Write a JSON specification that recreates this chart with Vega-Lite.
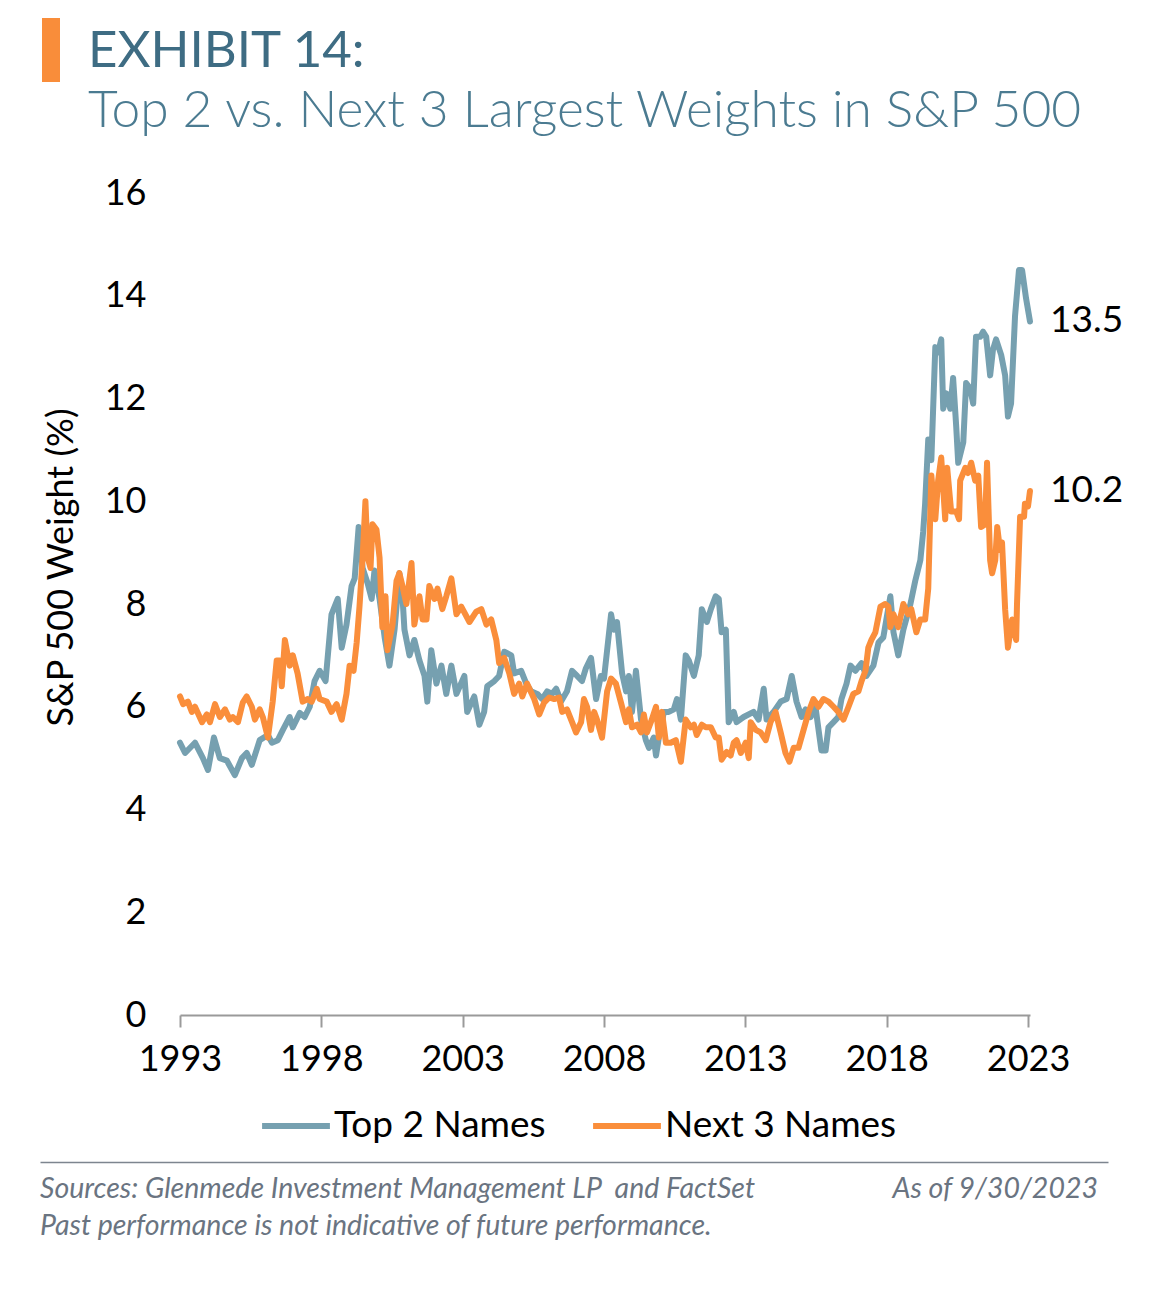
{
  "$schema": "https://vega.github.io/schema/vega-lite/v6.json",
  "padding": {"left": 40, "top": 18, "right": 0, "bottom": 0},
  "background": "white",
  "config": {"view": {"stroke": null}, "font": "Lato", "concat": {"spacing": 20}},
  "datasets": {
    "head": [
      {"part": "title", "txt": "EXHIBIT 14:"},
      {"part": "sub", "txt": "Top 2 vs. Next 3 Largest Weights in S&P 500"}
    ],
    "foot": [
      {"side": "left", "line": "first", "txt": "Sources: Glenmede Investment Management LP\u00a0 and FactSet"},
      {"side": "right", "line": "first", "txt": "As of 9/30/2023"},
      {"side": "left", "line": "second", "txt": "Past performance is not indicative of future performance."}
    ],
    "top2": [
      {"t":1993.00,"v":5.3},{"t":1993.18,"v":5.1},{"t":1993.53,"v":5.3},{"t":1993.81,"v":5.0},{"t":1993.99,"v":4.77},
      {"t":1994.20,"v":5.4},{"t":1994.41,"v":5.0},{"t":1994.66,"v":4.95},{"t":1994.94,"v":4.67},{"t":1995.19,"v":5.0},
      {"t":1995.36,"v":5.1},{"t":1995.54,"v":4.87},{"t":1995.82,"v":5.35},{"t":1996.11,"v":5.45},{"t":1996.25,"v":5.3},
      {"t":1996.46,"v":5.35},{"t":1996.64,"v":5.55},{"t":1996.88,"v":5.8},{"t":1996.99,"v":5.6},{"t":1997.24,"v":5.88},
      {"t":1997.41,"v":5.8},{"t":1997.59,"v":6.0},{"t":1997.76,"v":6.5},{"t":1997.94,"v":6.7},{"t":1998.15,"v":6.5},
      {"t":1998.36,"v":7.8},{"t":1998.58,"v":8.1},{"t":1998.72,"v":7.15},{"t":1998.89,"v":7.6},{"t":1999.07,"v":8.35},
      {"t":1999.18,"v":8.5},{"t":1999.32,"v":9.5},{"t":1999.46,"v":8.7},{"t":1999.64,"v":8.4},{"t":1999.78,"v":8.1},
      {"t":1999.88,"v":8.65},{"t":2000.06,"v":8.1},{"t":2000.24,"v":7.35},{"t":2000.41,"v":6.8},{"t":2000.59,"v":7.5},
      {"t":2000.76,"v":8.6},{"t":2000.87,"v":8.15},{"t":2000.94,"v":7.5},{"t":2001.12,"v":7.0},{"t":2001.29,"v":7.3},
      {"t":2001.47,"v":6.9},{"t":2001.65,"v":6.6},{"t":2001.75,"v":6.1},{"t":2001.89,"v":7.1},{"t":2002.07,"v":6.45},
      {"t":2002.25,"v":6.8},{"t":2002.42,"v":6.25},{"t":2002.60,"v":6.8},{"t":2002.78,"v":6.25},{"t":2003.06,"v":6.6},
      {"t":2003.16,"v":5.9},{"t":2003.41,"v":6.2},{"t":2003.59,"v":5.65},{"t":2003.76,"v":5.9},{"t":2003.87,"v":6.4},
      {"t":2004.12,"v":6.5},{"t":2004.29,"v":6.6},{"t":2004.47,"v":7.07},{"t":2004.72,"v":7.0},{"t":2004.82,"v":6.65},
      {"t":2005.07,"v":6.7},{"t":2005.25,"v":6.45},{"t":2005.42,"v":6.3},{"t":2005.64,"v":6.25},{"t":2005.81,"v":6.15},
      {"t":2005.99,"v":6.3},{"t":2006.16,"v":6.25},{"t":2006.31,"v":6.35},{"t":2006.48,"v":6.1},{"t":2006.69,"v":6.3},
      {"t":2006.87,"v":6.7},{"t":2007.05,"v":6.6},{"t":2007.22,"v":6.5},{"t":2007.36,"v":6.75},{"t":2007.54,"v":6.95},
      {"t":2007.72,"v":6.15},{"t":2007.89,"v":6.6},{"t":2008.00,"v":6.55},{"t":2008.25,"v":7.8},{"t":2008.35,"v":7.5},
      {"t":2008.46,"v":7.65},{"t":2008.64,"v":6.65},{"t":2008.78,"v":6.3},{"t":2008.88,"v":6.6},{"t":2008.99,"v":5.9},
      {"t":2009.13,"v":6.7},{"t":2009.31,"v":5.75},{"t":2009.48,"v":5.35},{"t":2009.59,"v":5.2},{"t":2009.76,"v":5.4},
      {"t":2009.84,"v":5.05},{"t":2009.94,"v":5.4},{"t":2010.12,"v":5.9},{"t":2010.29,"v":5.9},{"t":2010.47,"v":5.95},
      {"t":2010.58,"v":6.15},{"t":2010.72,"v":5.75},{"t":2010.89,"v":7.0},{"t":2011.00,"v":6.9},{"t":2011.18,"v":6.6},
      {"t":2011.35,"v":7.0},{"t":2011.46,"v":7.9},{"t":2011.64,"v":7.65},{"t":2011.78,"v":7.9},{"t":2011.95,"v":8.15},
      {"t":2012.06,"v":8.1},{"t":2012.16,"v":7.45},{"t":2012.31,"v":7.5},{"t":2012.41,"v":5.7},{"t":2012.59,"v":5.9},
      {"t":2012.69,"v":5.7},{"t":2012.94,"v":5.8},{"t":2013.29,"v":5.9},{"t":2013.47,"v":5.75},{"t":2013.65,"v":6.35},
      {"t":2013.75,"v":5.75},{"t":2014.00,"v":5.9},{"t":2014.25,"v":6.1},{"t":2014.46,"v":6.15},{"t":2014.64,"v":6.6},
      {"t":2014.81,"v":6.1},{"t":2014.99,"v":5.8},{"t":2015.13,"v":5.95},{"t":2015.31,"v":5.8},{"t":2015.48,"v":6.0},
      {"t":2015.59,"v":5.55},{"t":2015.69,"v":5.15},{"t":2015.84,"v":5.15},{"t":2015.94,"v":5.6},{"t":2016.12,"v":5.7},
      {"t":2016.29,"v":5.8},{"t":2016.40,"v":6.15},{"t":2016.58,"v":6.45},{"t":2016.72,"v":6.8},{"t":2016.89,"v":6.7},
      {"t":2017.11,"v":6.85},{"t":2017.28,"v":6.6},{"t":2017.53,"v":6.8},{"t":2017.71,"v":7.25},{"t":2017.88,"v":7.35},
      {"t":2018.13,"v":8.15},{"t":2018.24,"v":7.45},{"t":2018.41,"v":7.0},{"t":2018.59,"v":7.5},{"t":2018.84,"v":8.0},
      {"t":2019.01,"v":8.45},{"t":2019.19,"v":8.85},{"t":2019.29,"v":9.4},{"t":2019.36,"v":9.95},{"t":2019.47,"v":11.2},
      {"t":2019.58,"v":10.8},{"t":2019.72,"v":13.0},{"t":2019.82,"v":12.9},{"t":2019.93,"v":13.15},{"t":2020.00,"v":11.8},
      {"t":2020.11,"v":12.1},{"t":2020.25,"v":11.8},{"t":2020.35,"v":12.4},{"t":2020.46,"v":11.45},{"t":2020.53,"v":10.75},
      {"t":2020.71,"v":11.15},{"t":2020.81,"v":12.3},{"t":2020.95,"v":12.2},{"t":2021.06,"v":11.9},{"t":2021.16,"v":13.2},
      {"t":2021.31,"v":13.2},{"t":2021.41,"v":13.3},{"t":2021.52,"v":13.2},{"t":2021.66,"v":12.45},{"t":2021.76,"v":12.95},
      {"t":2021.87,"v":13.15},{"t":2022.05,"v":12.85},{"t":2022.19,"v":12.45},{"t":2022.29,"v":11.65},{"t":2022.40,"v":11.9},
      {"t":2022.54,"v":13.6},{"t":2022.68,"v":14.5},{"t":2022.79,"v":14.5},{"t":2022.93,"v":13.95},{"t":2023.07,"v":13.5}
    ],
    "next3": [
      {"t":1993.00,"v":6.2},{"t":1993.11,"v":6.05},{"t":1993.28,"v":6.1},{"t":1993.42,"v":5.9},{"t":1993.53,"v":6.0},
      {"t":1993.78,"v":5.7},{"t":1993.95,"v":5.85},{"t":1994.06,"v":5.7},{"t":1994.24,"v":6.05},{"t":1994.41,"v":5.8},
      {"t":1994.59,"v":5.95},{"t":1994.76,"v":5.75},{"t":1994.87,"v":5.8},{"t":1995.05,"v":5.7},{"t":1995.22,"v":6.08},
      {"t":1995.36,"v":6.2},{"t":1995.54,"v":6.0},{"t":1995.65,"v":5.75},{"t":1995.82,"v":5.95},{"t":1995.93,"v":5.8},
      {"t":1996.11,"v":5.4},{"t":1996.28,"v":6.1},{"t":1996.42,"v":6.9},{"t":1996.53,"v":6.9},{"t":1996.60,"v":6.4},
      {"t":1996.71,"v":7.3},{"t":1996.88,"v":6.8},{"t":1996.99,"v":7.0},{"t":1997.16,"v":6.65},{"t":1997.34,"v":6.1},
      {"t":1997.52,"v":6.15},{"t":1997.66,"v":6.1},{"t":1997.84,"v":6.35},{"t":1997.94,"v":6.15},{"t":1998.19,"v":6.1},
      {"t":1998.36,"v":5.9},{"t":1998.54,"v":6.05},{"t":1998.72,"v":5.75},{"t":1998.89,"v":6.25},{"t":1999.00,"v":6.8},
      {"t":1999.14,"v":6.7},{"t":1999.25,"v":7.25},{"t":1999.35,"v":7.95},{"t":1999.46,"v":8.9},{"t":1999.56,"v":10.0},
      {"t":1999.64,"v":8.9},{"t":1999.74,"v":8.7},{"t":1999.81,"v":9.55},{"t":1999.95,"v":9.45},{"t":2000.06,"v":8.9},
      {"t":2000.16,"v":7.55},{"t":2000.27,"v":8.15},{"t":2000.34,"v":7.1},{"t":2000.52,"v":7.6},{"t":2000.66,"v":8.45},
      {"t":2000.76,"v":8.6},{"t":2000.87,"v":8.35},{"t":2001.01,"v":8.0},{"t":2001.19,"v":8.8},{"t":2001.29,"v":7.6},
      {"t":2001.47,"v":8.15},{"t":2001.58,"v":7.7},{"t":2001.72,"v":7.7},{"t":2001.82,"v":8.35},{"t":2002.00,"v":8.1},
      {"t":2002.11,"v":8.3},{"t":2002.28,"v":7.9},{"t":2002.42,"v":8.15},{"t":2002.60,"v":8.5},{"t":2002.78,"v":7.8},
      {"t":2002.95,"v":7.95},{"t":2003.24,"v":7.65},{"t":2003.48,"v":7.85},{"t":2003.66,"v":7.9},{"t":2003.84,"v":7.6},
      {"t":2004.01,"v":7.7},{"t":2004.19,"v":7.3},{"t":2004.29,"v":6.85},{"t":2004.47,"v":6.95},{"t":2004.65,"v":6.65},
      {"t":2004.82,"v":6.25},{"t":2005.00,"v":6.45},{"t":2005.11,"v":6.2},{"t":2005.28,"v":6.45},{"t":2005.53,"v":6.15},
      {"t":2005.71,"v":5.85},{"t":2005.88,"v":6.08},{"t":2006.06,"v":6.18},{"t":2006.24,"v":6.15},{"t":2006.41,"v":6.18},
      {"t":2006.52,"v":5.9},{"t":2006.69,"v":5.95},{"t":2006.87,"v":5.7},{"t":2007.01,"v":5.5},{"t":2007.19,"v":5.7},
      {"t":2007.29,"v":6.15},{"t":2007.40,"v":6.0},{"t":2007.54,"v":5.55},{"t":2007.65,"v":5.9},{"t":2007.75,"v":5.75},
      {"t":2007.93,"v":5.4},{"t":2008.11,"v":6.3},{"t":2008.25,"v":6.55},{"t":2008.42,"v":6.45},{"t":2008.60,"v":6.08},
      {"t":2008.78,"v":5.7},{"t":2008.88,"v":5.95},{"t":2008.99,"v":5.6},{"t":2009.17,"v":5.65},{"t":2009.31,"v":5.5},
      {"t":2009.41,"v":5.85},{"t":2009.52,"v":5.5},{"t":2009.69,"v":5.75},{"t":2009.84,"v":6.0},{"t":2009.94,"v":5.4},
      {"t":2010.05,"v":5.9},{"t":2010.19,"v":5.3},{"t":2010.36,"v":5.3},{"t":2010.54,"v":5.35},{"t":2010.72,"v":4.93},
      {"t":2010.89,"v":5.75},{"t":2011.07,"v":5.6},{"t":2011.18,"v":5.65},{"t":2011.28,"v":5.45},{"t":2011.46,"v":5.65},
      {"t":2011.60,"v":5.6},{"t":2011.78,"v":5.6},{"t":2011.95,"v":5.4},{"t":2012.06,"v":5.4},{"t":2012.16,"v":4.97},
      {"t":2012.34,"v":5.12},{"t":2012.48,"v":5.05},{"t":2012.59,"v":5.3},{"t":2012.69,"v":5.35},{"t":2012.84,"v":5.1},
      {"t":2013.01,"v":5.3},{"t":2013.12,"v":5.0},{"t":2013.19,"v":5.7},{"t":2013.37,"v":5.55},{"t":2013.54,"v":5.5},
      {"t":2013.72,"v":5.35},{"t":2013.89,"v":5.7},{"t":2014.07,"v":5.9},{"t":2014.25,"v":5.5},{"t":2014.42,"v":5.1},
      {"t":2014.56,"v":4.93},{"t":2014.71,"v":5.2},{"t":2014.88,"v":5.2},{"t":2015.06,"v":5.55},{"t":2015.24,"v":5.9},
      {"t":2015.41,"v":6.15},{"t":2015.59,"v":6.0},{"t":2015.76,"v":6.15},{"t":2015.94,"v":6.1},{"t":2016.12,"v":6.0},
      {"t":2016.29,"v":5.9},{"t":2016.47,"v":5.75},{"t":2016.65,"v":6.0},{"t":2016.82,"v":6.25},{"t":2017.00,"v":6.3},
      {"t":2017.11,"v":6.5},{"t":2017.25,"v":6.7},{"t":2017.35,"v":7.15},{"t":2017.46,"v":7.3},{"t":2017.60,"v":7.45},
      {"t":2017.78,"v":7.95},{"t":2017.95,"v":8.0},{"t":2018.06,"v":7.95},{"t":2018.13,"v":7.55},{"t":2018.24,"v":7.8},
      {"t":2018.41,"v":7.55},{"t":2018.59,"v":8.0},{"t":2018.76,"v":7.8},{"t":2018.87,"v":7.9},{"t":2019.05,"v":7.45},
      {"t":2019.19,"v":7.7},{"t":2019.36,"v":7.7},{"t":2019.47,"v":8.3},{"t":2019.58,"v":10.5},{"t":2019.72,"v":9.65},
      {"t":2019.82,"v":10.4},{"t":2019.93,"v":10.85},{"t":2020.07,"v":9.65},{"t":2020.14,"v":10.65},{"t":2020.28,"v":9.8},
      {"t":2020.46,"v":9.8},{"t":2020.56,"v":9.65},{"t":2020.60,"v":10.4},{"t":2020.78,"v":10.65},{"t":2020.88,"v":10.55},
      {"t":2020.99,"v":10.75},{"t":2021.13,"v":10.4},{"t":2021.24,"v":10.5},{"t":2021.34,"v":9.5},{"t":2021.48,"v":9.55},
      {"t":2021.55,"v":10.75},{"t":2021.66,"v":8.85},{"t":2021.73,"v":8.6},{"t":2021.84,"v":8.85},{"t":2021.91,"v":9.5},
      {"t":2022.01,"v":9.05},{"t":2022.08,"v":9.2},{"t":2022.19,"v":7.9},{"t":2022.29,"v":7.15},{"t":2022.44,"v":7.7},
      {"t":2022.58,"v":7.3},{"t":2022.61,"v":8.0},{"t":2022.72,"v":9.7},{"t":2022.86,"v":9.7},{"t":2022.89,"v":9.95},
      {"t":2023.00,"v":9.9},{"t":2023.07,"v":10.2}
    ]
  },
  "vconcat": [
    {
      "width": 2, "height": 137,
      "layer": [
        {
          "data": {"values": [{"part": "bar"}]},
          "mark": {"type": "tick", "orient": "vertical", "size": 64, "thickness": 18, "color": "#F98D3A", "opacity": 1},
          "encoding": {
            "x": {"field": "part", "type": "nominal", "scale": {"type": "point", "domain": ["bar"], "range": [-129, -129], "padding": 0}, "axis": null},
            "y": {"field": "part", "type": "nominal", "scale": {"type": "point", "domain": ["bar"], "range": [32, 32], "padding": 0}, "axis": null}
          }
        },
        {
          "data": {"name": "head"},
          "encoding": {
            "x": {"field": "part", "type": "nominal", "scale": {"type": "point", "domain": ["title", "sub"], "range": [-92, -92], "padding": 0}, "axis": null},
            "y": {"field": "part", "type": "nominal", "scale": {"type": "point", "domain": ["title", "sub"], "range": [49, 109], "padding": 0}, "axis": null},
            "text": {"field": "txt"}
          },
          "layer": [
            {"transform": [{"filter": "datum.part == 'title'"}], "mark": {"type": "text", "align": "left", "baseline": "alphabetic", "fontSize": 51, "color": "#3E6C83"}},
            {"transform": [{"filter": "datum.part == 'sub'"}], "mark": {"type": "text", "align": "left", "baseline": "alphabetic", "fontSize": 51.5, "fontWeight": 300, "color": "#4B7B91"}}
          ]
        }
      ],
      "resolve": {"scale": {"x": "independent", "y": "independent"}}
    },
    {
      "width": 850, "height": 822,
      "encoding": {
        "x": {"field": "t", "type": "quantitative", "scale": {"domain": [1993, 2023.07], "nice": false, "zero": false},
              "axis": {"values": [1993, 1998, 2003, 2008, 2013, 2018, 2023], "format": "d", "title": null, "grid": false,
                       "labelFontSize": 36, "labelColor": "#000", "labelFlush": false, "labelPadding": 15,
                       "tickSize": 12, "tickColor": "#9a9a9a", "tickWidth": 2, "domainColor": "#9a9a9a", "domainWidth": 2}},
        "y": {"field": "v", "type": "quantitative", "scale": {"domain": [0, 16], "nice": false},
              "axis": {"values": [0, 2, 4, 6, 8, 10, 12, 14, 16], "title": "S&P 500 Weight (%)", "titleFontSize": 36,
                       "titleFontWeight": "normal", "titleColor": "#000", "titlePadding": 24, "titleY": 374, "labelFontSize": 36,
                       "labelColor": "#000", "labelPadding": 34, "domain": false, "ticks": false, "grid": false}}
      },
      "layer": [
        {
          "data": {"name": "top2"},
          "mark": {"type": "line", "strokeWidth": 6, "strokeJoin": "round", "strokeCap": "round"},
          "encoding": {
            "color": {"datum": "Top 2 Names", "type": "nominal",
                      "scale": {"domain": ["Top 2 Names", "Next 3 Names"], "range": ["#76A0B0", "#FA8E3B"]},
                      "legend": {"orient": "none", "legendX": 79, "legendY": 1071, "direction": "horizontal", "title": null,
                                 "symbolType": "stroke", "symbolStrokeWidth": 6, "symbolSize": 4600, "labelFontSize": 37,
                                 "labelColor": "#000", "columnPadding": 35, "labelOffset": 1, "labelLimit": 400}}
          }
        },
        {
          "data": {"name": "next3"},
          "mark": {"type": "line", "strokeWidth": 6, "strokeJoin": "round", "strokeCap": "round"},
          "encoding": {"color": {"datum": "Next 3 Names", "type": "nominal"}}
        },
        {
          "data": {"name": "top2"},
          "transform": [{"joinaggregate": [{"op": "max", "field": "t", "as": "tm"}]}, {"filter": "datum.t == datum.tm"}],
          "mark": {"type": "text", "align": "left", "baseline": "middle", "dx": 20, "fontSize": 37, "color": "#000"},
          "encoding": {"text": {"field": "v", "type": "quantitative", "format": ".1f"}}
        },
        {
          "data": {"name": "next3"},
          "transform": [{"joinaggregate": [{"op": "max", "field": "t", "as": "tm"}]}, {"filter": "datum.t == datum.tm"}],
          "mark": {"type": "text", "align": "left", "baseline": "middle", "dx": 20, "fontSize": 37, "color": "#000"},
          "encoding": {"text": {"field": "v", "type": "quantitative", "format": ".1f"}}
        }
      ]
    },
    {
      "width": 928, "height": 142,
      "data": {"name": "foot"},
      "encoding": {
        "x": {"field": "side", "type": "nominal", "scale": {"type": "point", "domain": ["left", "right"], "range": [-140, 928], "padding": 0},
              "axis": {"orient": "top", "offset": -65, "domain": true, "domainColor": "#7D858F", "domainWidth": 1.5, "ticks": false, "labels": false, "title": null, "grid": false}},
        "y": {"field": "line", "type": "nominal", "scale": {"type": "point", "domain": ["first", "second"], "range": [101, 138], "padding": 0}, "axis": null},
        "text": {"field": "txt"}
      },
      "layer": [
        {"transform": [{"filter": "datum.side == 'left'"}], "mark": {"type": "text", "align": "left", "baseline": "alphabetic", "fontSize": 28.5, "fontStyle": "italic", "color": "#6A7481"}},
        {"transform": [{"filter": "datum.side == 'right'"}], "mark": {"type": "text", "align": "right", "baseline": "alphabetic", "dx": -10, "fontSize": 28.5, "fontStyle": "italic", "color": "#6A7481"}}
      ]
    }
  ]
}
